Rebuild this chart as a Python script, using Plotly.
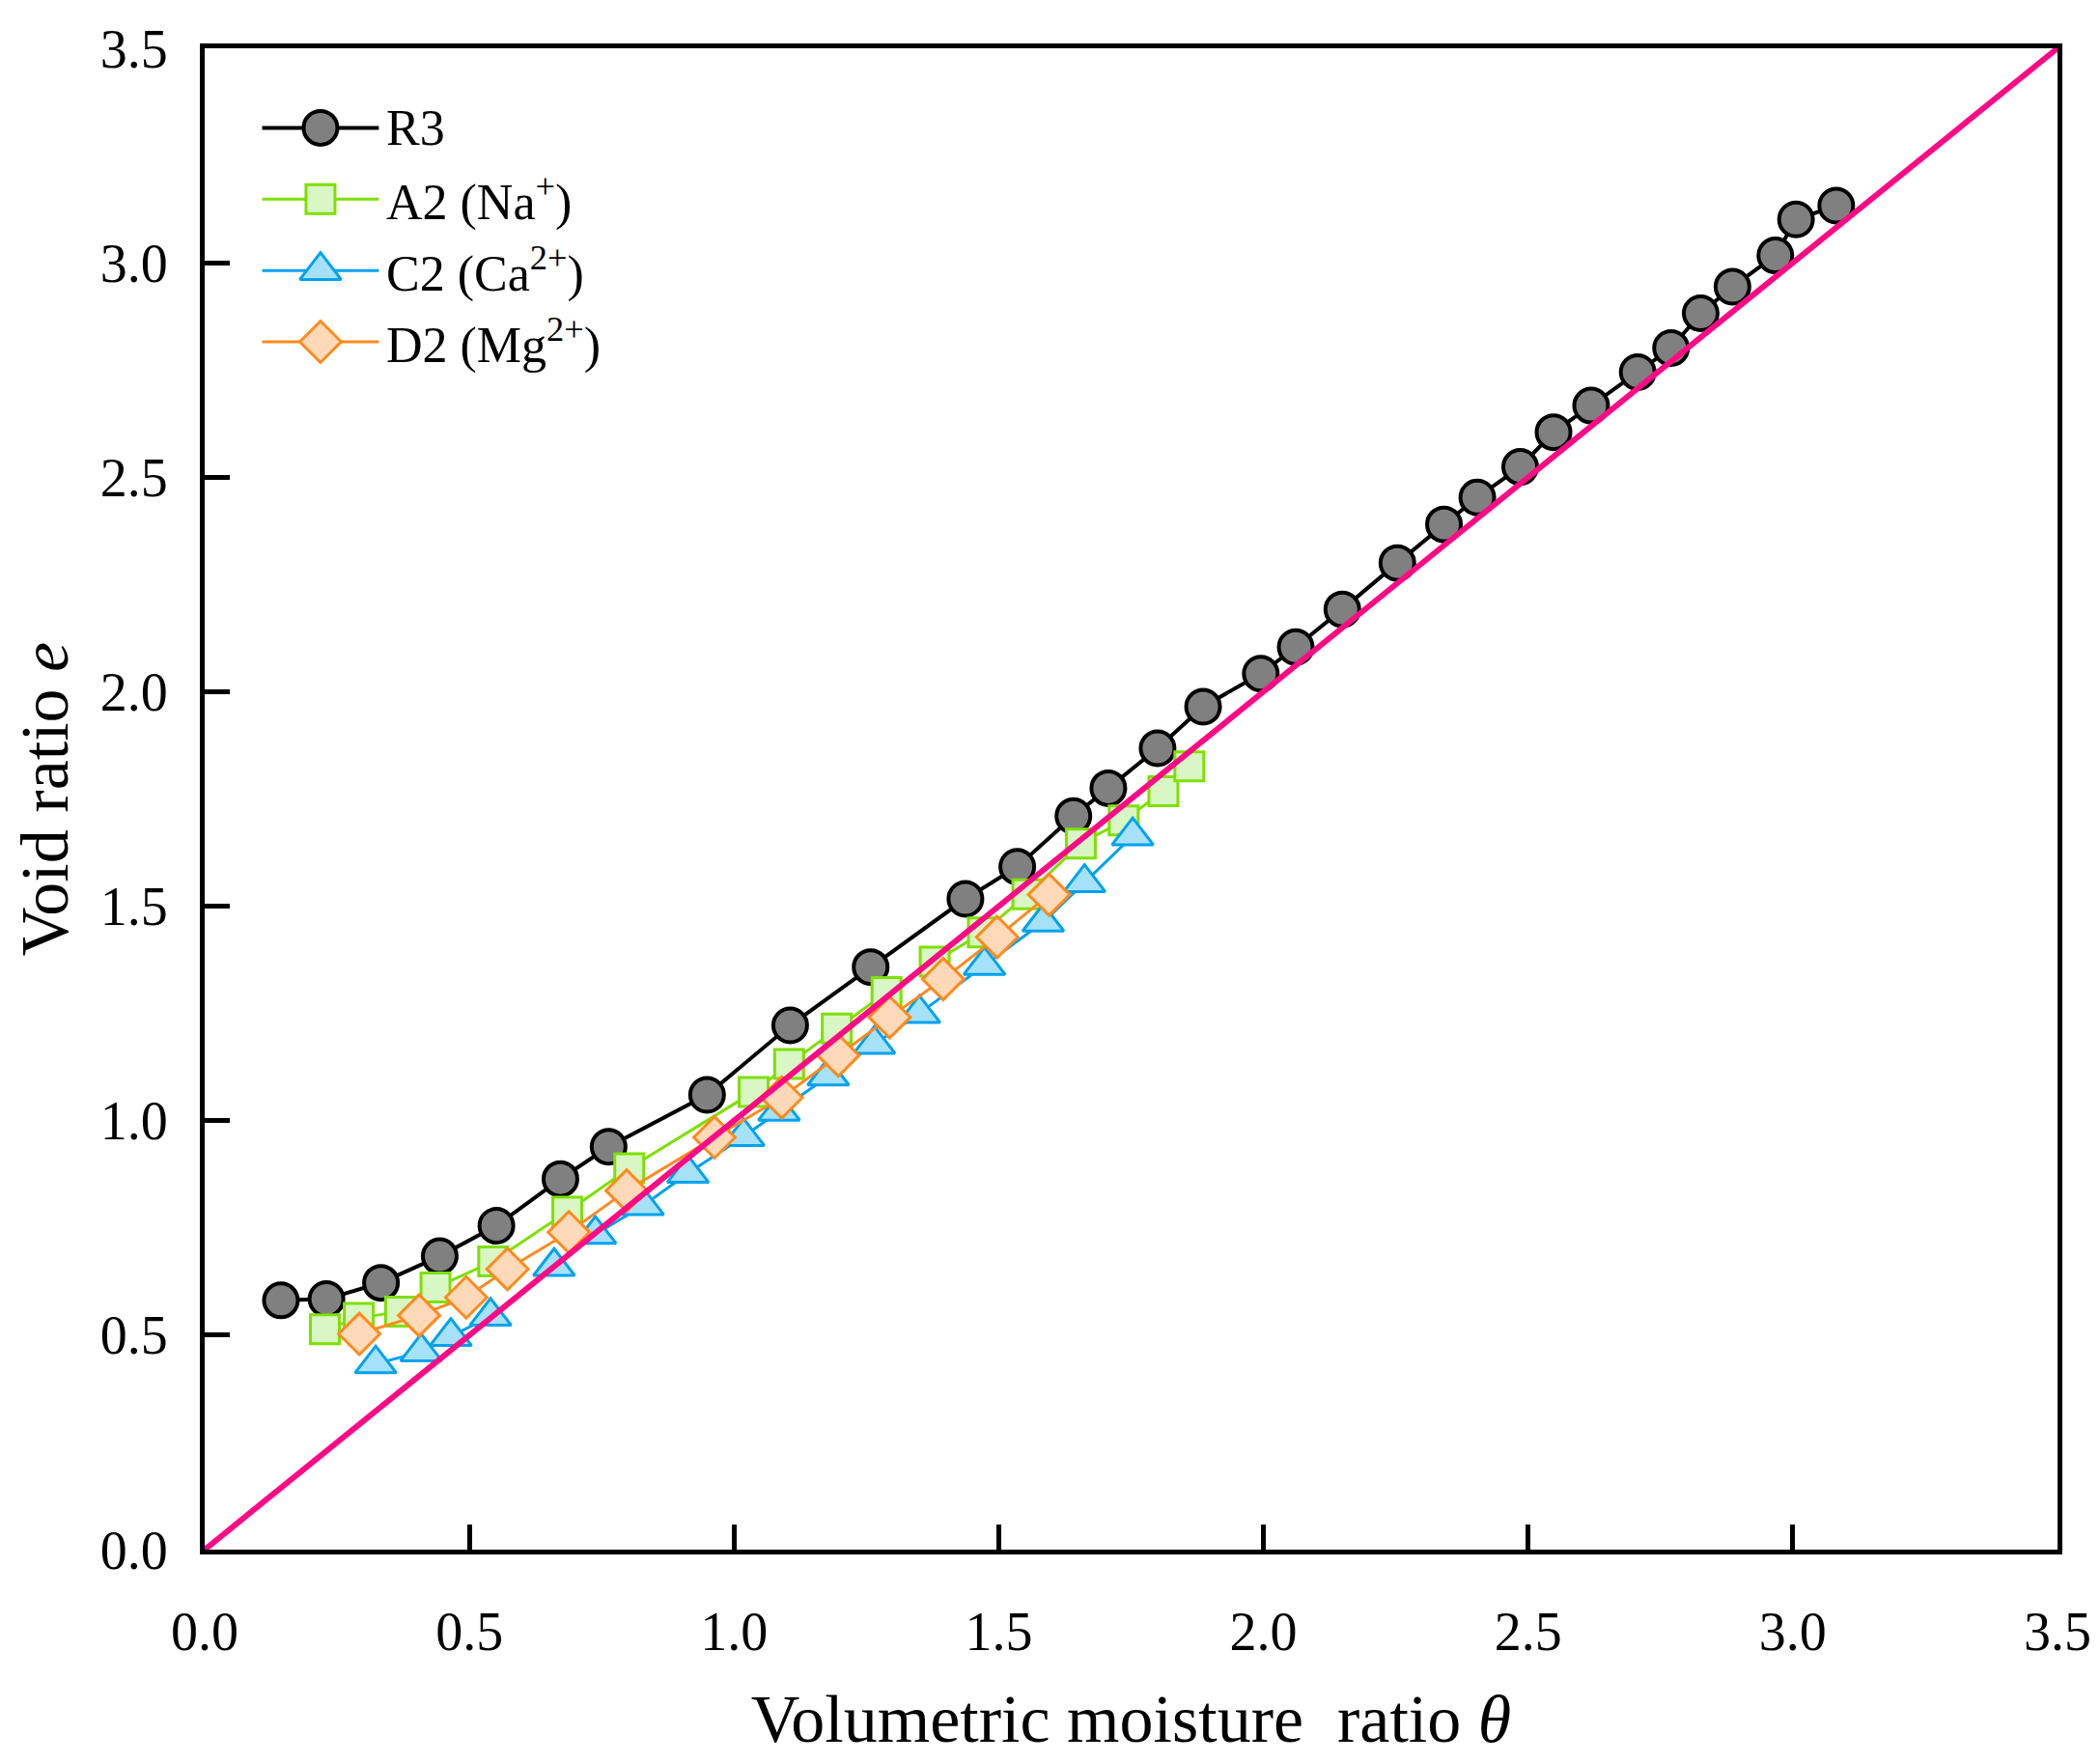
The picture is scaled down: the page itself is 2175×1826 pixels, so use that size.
import plotly.graph_objects as go

# data
r3_theta = [0.144, 0.230, 0.333, 0.444, 0.551, 0.672, 0.763, 0.949, 1.106, 1.258,
            1.437, 1.535, 1.641, 1.707, 1.800, 1.886, 1.995, 2.061, 2.149, 2.253,
            2.341, 2.404, 2.485, 2.548, 2.619, 2.707, 2.770, 2.826, 2.886, 2.967,
            3.006, 3.082]
r3_e = [0.581, 0.584, 0.622, 0.684, 0.755, 0.864, 0.939, 1.060, 1.222, 1.358,
        1.517, 1.592, 1.710, 1.775, 1.868, 1.965, 2.042, 2.104, 2.192, 2.300,
        2.390, 2.453, 2.524, 2.605, 2.667, 2.745, 2.801, 2.882, 2.944, 3.017,
        3.101, 3.133]

a2_theta = [0.227, 0.291, 0.369, 0.436, 0.545, 0.685, 0.802, 1.037, 1.104, 1.194,
            1.288, 1.379, 1.470, 1.554, 1.655, 1.736, 1.811, 1.860]
a2_e = [0.514, 0.540, 0.555, 0.611, 0.672, 0.788, 0.889, 1.067, 1.132, 1.215,
        1.300, 1.371, 1.439, 1.528, 1.646, 1.700, 1.768, 1.826]

c2_theta = [0.323, 0.409, 0.465, 0.540, 0.660, 0.738, 0.828, 0.913, 1.018, 1.085,
            1.178, 1.265, 1.350, 1.473, 1.584, 1.662, 1.753]
c2_e = [0.433, 0.461, 0.497, 0.544, 0.660, 0.735, 0.802, 0.877, 0.963, 1.022,
        1.104, 1.178, 1.250, 1.362, 1.463, 1.555, 1.664]

d2_theta = [0.292, 0.405, 0.494, 0.572, 0.688, 0.797, 0.963, 1.090, 1.197, 1.294,
            1.395, 1.497, 1.595]
d2_e = [0.503, 0.546, 0.588, 0.654, 0.740, 0.837, 0.961, 1.054, 1.152, 1.241,
        1.330, 1.428, 1.527]

# 1:1 line
line_theta = [0, 3.5]
line_e = [0, 3.5]

tick_vals = [0.0, 0.5, 1.0, 1.5, 2.0, 2.5, 3.0, 3.5]

series_names = ["R3", "A2 (Na<sup>+</sup>)", "C2 (Ca<sup>2+</sup>)", "D2 (Mg<sup>2+</sup>)"]

FONT = "Liberation Serif, Times New Roman, serif"

# per-series style: line colour, marker symbol, marker size, fill colour, outline width
styles = [
    ("black", "circle", 35, "#808080", 4),
    ("#7ee000", "square", 30, "#d9f7c4", 3),
    ("#00a2ee", "triangle-up", 37, "#a6e1fa", 3),
    ("#ff8a1e", "diamond", 33, "#ffd9b8", 3),
]
series = [(r3_theta, r3_e), (a2_theta, a2_e), (c2_theta, c2_e), (d2_theta, d2_e)]

fig = go.Figure()

for (xs, ys), name, (col, sym, sz, fill, lw) in zip(series, series_names, styles):
    fig.add_trace(go.Scatter(
        x=xs, y=ys, mode="lines+markers", name=name, showlegend=False,
        line=dict(color=col, width=lw),
        marker=dict(symbol=sym, size=sz, color=fill, line=dict(color=col, width=lw)),
    ))

fig.add_trace(go.Scatter(
    x=line_theta, y=line_e, mode="lines", showlegend=False,
    line=dict(color="#ff0a85", width=6),
))

# hand-made legend on an overlay axis (0-1 across the plot area),
# so the key symbols can be as large as the plotted markers
leg_x0, leg_x1, leg_text_x = 0.031, 0.094, 0.097
leg_y0, leg_dy = 0.947, 0.0475
for i, (name, (col, sym, sz, fill, lw)) in enumerate(zip(series_names, styles)):
    yk = leg_y0 - i * leg_dy
    fig.add_trace(go.Scatter(
        x=[leg_x0, leg_x1], y=[yk, yk], mode="lines", xaxis="x2", yaxis="y2",
        showlegend=False, hoverinfo="skip", line=dict(color=col, width=lw),
    ))
    fig.add_trace(go.Scatter(
        x=[(leg_x0 + leg_x1) / 2], y=[yk], mode="markers", xaxis="x2", yaxis="y2",
        showlegend=False, hoverinfo="skip",
        marker=dict(symbol=sym, size=sz, color=fill, line=dict(color=col, width=lw)),
    ))
    fig.add_annotation(
        x=leg_text_x, y=yk, xref="paper", yref="paper", text=name,
        showarrow=False, xanchor="left", yanchor="middle",
        font=dict(family=FONT, size=52, color="black"),
    )

axis_style = dict(
    range=[0, 3.5], tickvals=tick_vals, ticktext=[f"{v:.1f}" for v in tick_vals],
    showline=True, linecolor="black", linewidth=5, mirror=True,
    ticks="inside", ticklen=26, tickwidth=5, tickcolor="black",
    showgrid=False, zeroline=False,
    tickfont=dict(family=FONT, size=56, color="black"),
)

fig.update_layout(
    xaxis=dict(
        **axis_style, ticklabelstandoff=32,
        title=dict(text="Volumetric moisture\u00a0 ratio <i>θ</i>",
                   font=dict(family=FONT, size=70, color="black"), standoff=36),
    ),
    yaxis=dict(
        **axis_style, ticklabelstandoff=22,
        title=dict(text="Void ratio <i>e</i>",
                   font=dict(family=FONT, size=70, color="black"), standoff=30),
    ),
    xaxis2=dict(overlaying="x", range=[0, 1], visible=False, fixedrange=True),
    yaxis2=dict(overlaying="y", range=[0, 1], visible=False, fixedrange=True),
    width=2175, height=1826,
    margin=dict(l=204, r=52, t=40, b=229),
    plot_bgcolor="white", paper_bgcolor="white",
    font=dict(family=FONT, color="black"),
    showlegend=False,
)

fig.write_html("out.html")
